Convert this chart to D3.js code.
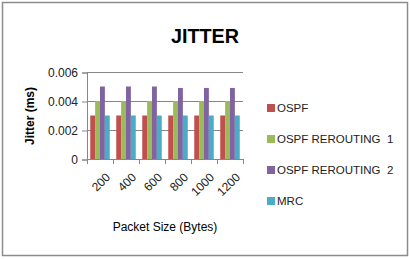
<!DOCTYPE html>
<html>
<head>
<meta charset="utf-8">
<script src="https://cdn.jsdelivr.net/npm/d3@7"></script>
<style>
body { margin: 0; background: #fff; }
text { font-family: "Liberation Sans", Arial, sans-serif; }
</style>
</head>
<body>
<script>
var categories = ["200", "400", "600", "800", "1000", "1200"];
var seriesNames = ["OSPF", "OSPF REROUTING  1", "OSPF REROUTING  2", "MRC"];
var ospf = [0.003, 0.003, 0.003, 0.003, 0.003, 0.003];
var rerouting1 = [0.004, 0.004, 0.004, 0.004, 0.004, 0.004];
var rerouting2 = [0.005, 0.005, 0.005, 0.0049, 0.0049, 0.0049];
var mrc = [0.003, 0.003, 0.003, 0.003, 0.003, 0.003];
var yTicks = [0, 0.002, 0.004, 0.006];
var colors = ["#C0504D", "#9BBB59", "#8064A2", "#4BACC6"];

var allSeries = [ospf, rerouting1, rerouting2, mrc];

var w = 410;
var h = 259;

var svg = d3.select("body").append("svg")
    .attr("width", w)
    .attr("height", h);

// outer frame
svg.append("rect")
    .attr("x", 2.5).attr("y", 2.5)
    .attr("width", 405).attr("height", 253)
    .attr("fill", "#fff")
    .attr("stroke", "#8c8c8c")
    .attr("stroke-width", 1.5);

var plotLeft = 87, plotRight = 243, plotTop = 72, plotBottom = 159;

var x = d3.scaleBand()
    .domain(categories)
    .range([plotLeft, plotRight])
    .paddingInner(0.25)
    .paddingOuter(0.125);

var x1 = d3.scaleBand()
    .domain(d3.range(seriesNames.length))
    .range([0, x.bandwidth()]);

var y = d3.scaleLinear()
    .domain([0, 0.006])
    .range([plotBottom, plotTop]);

// gridlines
svg.selectAll(".grid")
    .data(yTicks.slice(1))
    .enter()
    .append("line")
    .attr("x1", plotLeft)
    .attr("x2", plotRight)
    .attr("y1", function(d) { return y(d) + 0.5; })
    .attr("y2", function(d) { return y(d) + 0.5; })
    .style("stroke", "#868686");

// bars
var groups = svg.selectAll(".grp")
    .data(categories)
    .enter()
    .append("g")
    .attr("transform", function(d) { return "translate(" + x(d) + ",0)"; });

groups.selectAll("rect")
    .data(function(d, i) {
        return allSeries.map(function(s, j) { return { k: j, v: s[i] }; });
    })
    .enter()
    .append("rect")
    .attr("x", function(d) { return x1(d.k); })
    .attr("width", x1.bandwidth())
    .attr("y", function(d) { return y(d.v); })
    .attr("height", function(d) { return plotBottom - y(d.v); })
    .attr("fill", function(d) { return colors[d.k]; });

// y axis
var yAxis = svg.append("g")
    .attr("transform", "translate(" + plotLeft + ",0.5)")
    .call(d3.axisLeft(y).tickValues(yTicks).tickSize(5).tickPadding(4)
        .tickFormat(function(d) { return d === 0 ? "0" : d3.format(".3f")(d); }));
yAxis.select(".domain").attr("stroke", "#868686");
yAxis.selectAll(".tick line").attr("stroke", "#868686");
yAxis.selectAll("text")
    .attr("font-size", "12px")
    .attr("fill", "#222")
    .attr("font-family", "Liberation Sans, Arial, sans-serif");

// x axis line and ticks at band boundaries
svg.append("line")
    .attr("x1", plotLeft).attr("x2", plotRight)
    .attr("y1", plotBottom + 0.5).attr("y2", plotBottom + 0.5)
    .style("stroke", "#868686");

var step = x.step();
svg.selectAll(".xtick")
    .data(d3.range(categories.length + 1))
    .enter()
    .append("line")
    .attr("x1", function(i) { return plotLeft + i * step + 0.5; })
    .attr("x2", function(i) { return plotLeft + i * step + 0.5; })
    .attr("y1", plotBottom)
    .attr("y2", plotBottom + 5)
    .style("stroke", "#868686");

svg.selectAll(".xlabel")
    .data(categories)
    .enter()
    .append("text")
    .text(function(d) { return d; })
    .attr("transform", function(d) {
        return "translate(" + (x(d) + x.bandwidth() / 2 + 5) + "," + (plotBottom + 13) + ") rotate(-45)";
    })
    .attr("text-anchor", "end")
    .attr("dy", "0.7em")
    .attr("font-size", "12px")
    .attr("fill", "#222");

// title
svg.append("text")
    .text("JITTER")
    .attr("x", 205)
    .attr("y", 43)
    .attr("text-anchor", "middle")
    .attr("font-size", "21px")
    .attr("font-weight", "bold")
    .attr("textLength", 68)
    .attr("lengthAdjust", "spacingAndGlyphs")
    .attr("fill", "#000");

// axis titles
svg.append("text")
    .text("Jitter (ms)")
    .attr("transform", "translate(34,116) rotate(-90)")
    .attr("text-anchor", "middle")
    .attr("font-size", "12px")
    .attr("font-weight", "bold")
    .attr("fill", "#000");

svg.append("text")
    .text("Packet Size (Bytes)")
    .attr("x", 165)
    .attr("y", 231)
    .attr("text-anchor", "middle")
    .attr("font-size", "12px")
    .attr("fill", "#000");

// legend
var legend = svg.selectAll(".legend")
    .data(seriesNames)
    .enter()
    .append("g")
    .attr("transform", function(d, i) { return "translate(267," + (108 + i * 31) + ")"; });

legend.append("rect")
    .attr("x", 0)
    .attr("y", -4)
    .attr("width", 8)
    .attr("height", 8)
    .attr("fill", function(d, i) { return colors[i]; });

legend.append("text")
    .text(function(d) { return d; })
    .attr("x", 10)
    .attr("y", 0)
    .attr("dy", "0.35em")
    .attr("font-size", "11.5px")
    .attr("fill", "#222")
    .style("white-space", "pre");
</script>
</body>
</html>
